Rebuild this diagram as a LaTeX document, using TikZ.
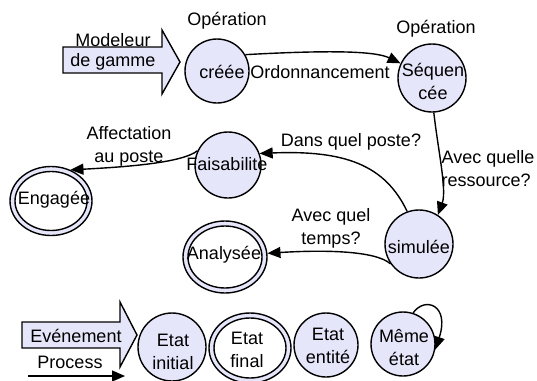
\documentclass[tikz,border=0pt]{standalone}
\usepackage{fontspec}
\setmainfont{Liberation Sans}
\usetikzlibrary{arrows.meta,shapes.geometric}
\definecolor{lav}{RGB}{230,230,250}
\begin{document}
\begin{tikzpicture}[x=1pt,y=-1pt,
  font=\fontsize{18}{23}\selectfont,
  state/.style={circle, draw, fill=lav, line width=1.4pt, inner sep=0pt},
  outerell/.style={ellipse, draw, fill=lav, line width=1.4pt, inner sep=0pt},
  innerell/.style={ellipse, draw, fill=white, line width=1.4pt, inner sep=0pt},
  txt/.style={inner sep=0pt, align=center},
  conn/.style={line width=1.4pt, -{Triangle[length=13pt,width=11pt]}},
  bigarrow/.style={draw, fill=lav, line width=1.4pt, line join=miter}]
\useasboundingbox (0,0) rectangle (537,380);

% big arrows
\draw[bigarrow] (63,47) -- (162,47) -- (162,30) -- (180,62) -- (162,94) -- (162,73) -- (63,73) -- cycle;
\node[txt] (tmod) at (113,40) {Modeleur};
\node[txt] (tgam) at (113,62) {de gamme};

% states
\node[state, minimum size=64pt] (crea) at (217,71) {};
\node[txt] (tcrea) at (222,72) {créée};
\node[txt] (op1) at (227,21) {Opération};

\node[state, minimum size=68pt] (seq) at (432,78) {};
\node[txt] (tseq) at (433,81) {Séquen\\cée};
\node[txt] (op2) at (436,29) {Opération};

\node[state, minimum size=66pt] (fais) at (228,165) {};
\node[txt] (tfais) at (227,164) {Faisabilite};

\node[state, minimum size=68pt] (simu) at (419,244) {};
\node[txt] (tsimu) at (419,247) {simulée};

\node[outerell, minimum width=82pt, minimum height=69pt] (eng) at (51,201) {};
\node[innerell, minimum width=72pt, minimum height=59pt] (engi) at (51,201) {};
\node[txt] (teng) at (54,200) {Engagée};

\node[outerell, minimum width=84pt, minimum height=72pt] (ana) at (225,257) {};
\node[innerell, minimum width=74pt, minimum height=62pt] (anai) at (225,257) {};
\node[txt] (tana) at (224,255) {Analysée};

% connectors
\draw[conn] (crea.30) .. controls (330,50) and (375,51) .. (seq.155);
\node[txt] (lord) at (320,72) {Ordonnancement};

\draw[conn] (seq.-87) .. controls (438,150) and (447,190) .. (simu.57);
\node[txt, align=left] (lres) at (488,169) {Avec quelle\\ressource?};

\draw[conn] (simu.110) .. controls (385,165) and (345,150) .. (fais.20);
\node[txt] (lposte) at (351,142) {Dans quel poste?};

\draw[conn] (fais.155) .. controls (182,163) and (125,167) .. (eng.58);
\node[txt] (laff) at (129,146) {Affectation\\au poste};

\draw[conn] (simu.-145) .. controls (375,250) and (320,250) .. (ana.5);
\node[txt] (ltemps) at (331,228) {Avec quel\\temps?};

% legend
\draw[bigarrow] (22,322) -- (120,322) -- (120,302) -- (137,335) -- (120,367) -- (120,348) -- (22,348) -- cycle;
\node[txt] (tevt) at (76,336) {Evénement};
\node[txt] (tproc) at (70,362) {Process};
\coordinate (p1) at (28,376);
\coordinate (p2) at (125,376);
\draw[conn] (p1) -- (p2);

\node[state, minimum size=68pt] (ei) at (172,347) {};
\node[txt] (tei) at (173,352) {Etat\\initial};

\node[outerell, minimum width=82pt, minimum height=70pt] (ef) at (250,348) {};
\node[innerell, minimum width=72pt, minimum height=60pt] (efi) at (250,348) {};
\node[txt] (tef) at (247,350) {Etat\\final};

\node[state, minimum size=64pt] (ee) at (326,345) {};
\node[txt] (tee) at (328,346) {Etat\\entité};

\node[state, minimum size=64pt] (me) at (403,344) {};
\node[txt] (tme) at (404,348) {Même\\état};
\draw[conn] (me.72) .. controls (425,296) and (450,305) .. (me.-10);
\end{tikzpicture}
\end{document}
